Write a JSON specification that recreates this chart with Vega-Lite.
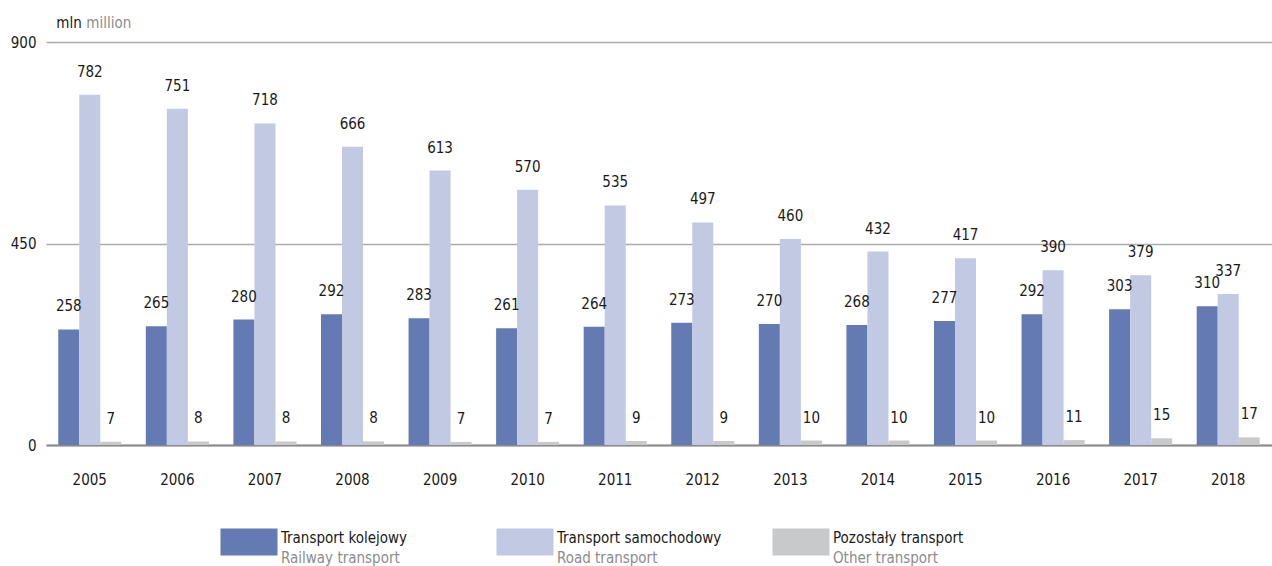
{
  "$schema": "https://vega.github.io/schema/vega-lite/v6.json",
  "padding": {"left": 10, "top": 16, "right": 0, "bottom": 0},
  "background": "white",
  "spacing": 35,
  "config": {
    "view": {"stroke": null},
    "font": "Liberation Sans Narrow, DejaVu Sans Condensed, Roboto Condensed, Roboto, sans-serif",
    "text": {"font": "Liberation Sans Narrow, DejaVu Sans Condensed, Roboto Condensed, Roboto, sans-serif", "fontSize": 15, "color": "#1a1a1a"},
    "axis": {"labelFont": "Liberation Sans Narrow, DejaVu Sans Condensed, Roboto Condensed, Roboto, sans-serif"}
  },
  "datasets": {
    "main": [
      {"year": "2005", "series": "Transport kolejowy", "value": 258},
      {"year": "2005", "series": "Transport samochodowy", "value": 782},
      {"year": "2005", "series": "Pozostały transport", "value": 7},
      {"year": "2006", "series": "Transport kolejowy", "value": 265},
      {"year": "2006", "series": "Transport samochodowy", "value": 751},
      {"year": "2006", "series": "Pozostały transport", "value": 8},
      {"year": "2007", "series": "Transport kolejowy", "value": 280},
      {"year": "2007", "series": "Transport samochodowy", "value": 718},
      {"year": "2007", "series": "Pozostały transport", "value": 8},
      {"year": "2008", "series": "Transport kolejowy", "value": 292},
      {"year": "2008", "series": "Transport samochodowy", "value": 666},
      {"year": "2008", "series": "Pozostały transport", "value": 8},
      {"year": "2009", "series": "Transport kolejowy", "value": 283},
      {"year": "2009", "series": "Transport samochodowy", "value": 613},
      {"year": "2009", "series": "Pozostały transport", "value": 7},
      {"year": "2010", "series": "Transport kolejowy", "value": 261},
      {"year": "2010", "series": "Transport samochodowy", "value": 570},
      {"year": "2010", "series": "Pozostały transport", "value": 7},
      {"year": "2011", "series": "Transport kolejowy", "value": 264},
      {"year": "2011", "series": "Transport samochodowy", "value": 535},
      {"year": "2011", "series": "Pozostały transport", "value": 9},
      {"year": "2012", "series": "Transport kolejowy", "value": 273},
      {"year": "2012", "series": "Transport samochodowy", "value": 497},
      {"year": "2012", "series": "Pozostały transport", "value": 9},
      {"year": "2013", "series": "Transport kolejowy", "value": 270},
      {"year": "2013", "series": "Transport samochodowy", "value": 460},
      {"year": "2013", "series": "Pozostały transport", "value": 10},
      {"year": "2014", "series": "Transport kolejowy", "value": 268},
      {"year": "2014", "series": "Transport samochodowy", "value": 432},
      {"year": "2014", "series": "Pozostały transport", "value": 10},
      {"year": "2015", "series": "Transport kolejowy", "value": 277},
      {"year": "2015", "series": "Transport samochodowy", "value": 417},
      {"year": "2015", "series": "Pozostały transport", "value": 10},
      {"year": "2016", "series": "Transport kolejowy", "value": 292},
      {"year": "2016", "series": "Transport samochodowy", "value": 390},
      {"year": "2016", "series": "Pozostały transport", "value": 11},
      {"year": "2017", "series": "Transport kolejowy", "value": 303},
      {"year": "2017", "series": "Transport samochodowy", "value": 379},
      {"year": "2017", "series": "Pozostały transport", "value": 15},
      {"year": "2018", "series": "Transport kolejowy", "value": 310},
      {"year": "2018", "series": "Transport samochodowy", "value": 337},
      {"year": "2018", "series": "Pozostały transport", "value": 17}
    ],
    "legend": [
      {"series": "Transport kolejowy", "en": "Railway transport"},
      {"series": "Transport samochodowy", "en": "Road transport"},
      {"series": "Pozostały transport", "en": "Other transport"}
    ]
  },
  "vconcat": [
    {
      "width": 1226,
      "height": 403,
      "data": {"name": "main"},
      "encoding": {
        "x": {
          "field": "year",
          "type": "nominal",
          "scale": {"paddingInner": 0.28, "paddingOuter": 0.14},
          "axis": {
            "title": null,
            "labelAngle": 0,
            "labelFontSize": 15,
            "labelColor": "#1a1a1a",
            "labelPadding": 27,
            "ticks": false,
            "domainColor": "#8a8a8a",
            "domainWidth": 2
          }
        }
      },
      "layer": [
        {
          "mark": {"type": "bar"},
          "encoding": {
            "xOffset": {"field": "series", "type": "nominal", "scale": {"domain": ["Transport kolejowy", "Transport samochodowy", "Pozostały transport"]}},
            "y": {
              "field": "value",
              "type": "quantitative",
              "scale": {"domain": [0, 900], "nice": false},
              "axis": {
                "title": null,
                "values": [0, 450, 900],
                "grid": true,
                "gridColor": "#ababab",
                "gridWidth": 1.5,
                "domain": false,
                "ticks": false,
                "labelPadding": 10,
                "labelFontSize": 15,
                "labelColor": "#1a1a1a"
              }
            },
            "color": {
              "field": "series",
              "type": "nominal",
              "scale": {
                "domain": ["Transport kolejowy", "Transport samochodowy", "Pozostały transport"],
                "range": ["#647ab2", "#c1c9e3", "#c8c9cb"]
              },
              "legend": null
            }
          }
        },
        {
          "mark": {"type": "text", "baseline": "alphabetic", "dy": -18},
          "encoding": {
            "xOffset": {"field": "series", "type": "nominal", "scale": {"domain": ["Transport kolejowy", "Transport samochodowy", "Pozostały transport"]}},
            "y": {"field": "value", "type": "quantitative"},
            "text": {"field": "value", "type": "quantitative"}
          }
        },
        {
          "data": {"values": [{}]},
          "mark": {"type": "text", "text": "mln", "align": "left", "baseline": "alphabetic", "dx": -2, "dy": -14, "color": "#1a1a1a"},
          "encoding": {
            "x": {"datum": "2005", "bandPosition": 0},
            "y": {"datum": 900}
          }
        },
        {
          "data": {"values": [{}]},
          "mark": {"type": "text", "text": "million", "align": "left", "baseline": "alphabetic", "dx": 28, "dy": -14, "color": "#8c8c8c"},
          "encoding": {
            "x": {"datum": "2005", "bandPosition": 0},
            "y": {"datum": 900}
          }
        }
      ]
    },
    {
      "width": 1226,
      "height": 40,
      "data": {"name": "legend"},
      "encoding": {
        "x": {"field": "series", "type": "nominal", "sort": null, "scale": {"type": "point", "padding": 0, "range": [203, 755]}, "axis": null},
        "y": {"datum": 1, "type": "quantitative", "scale": {"domain": [0, 2]}, "axis": null}
      },
      "layer": [
        {
          "mark": {"type": "rect", "width": 57, "height": 27},
          "encoding": {
            "color": {
              "field": "series",
              "type": "nominal",
              "scale": {
                "domain": ["Transport kolejowy", "Transport samochodowy", "Pozostały transport"],
                "range": ["#647ab2", "#c1c9e3", "#c8c9cb"]
              },
              "legend": null
            }
          }
        },
        {
          "mark": {"type": "text", "align": "left", "baseline": "alphabetic", "dx": 32, "dy": 0.5, "fontSize": 15, "color": "#1a1a1a"},
          "encoding": {"text": {"field": "series"}}
        },
        {
          "mark": {"type": "text", "align": "left", "baseline": "alphabetic", "dx": 32, "dy": 20.5, "fontSize": 15, "color": "#8c8c8c"},
          "encoding": {"text": {"field": "en"}}
        }
      ]
    }
  ]
}
